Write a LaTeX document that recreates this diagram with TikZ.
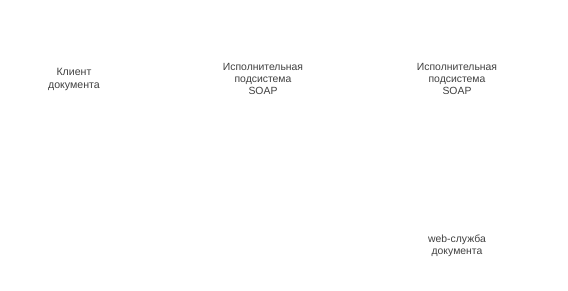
\documentclass[tikz,border=0pt]{standalone}
\usepackage{fontspec}
\setmainfont{Liberation Sans}
\usepackage{xcolor}
\usetikzlibrary{positioning}

\begin{document}
\begin{tikzpicture}[
    x=1pt, y=-1pt,
    label/.style={align=center, inner sep=0pt, text=black!75,
                  font=\fontsize{10.4}{12}\selectfont},
  ]
    \useasboundingbox (0,0) rectangle (568,291);
    \node[label, font=\fontsize{10.6}{13}\selectfont] (client) at (74,79.5) {Клиент\\документа};
    \node[label] (soapA)  at (263,79) {Исполнительная\\подсистема\\SOAP};
    \node[label] (soapB)  at (457,79) {Исполнительная\\подсистема\\SOAP};
    \node[label] (svc)    at (457,245.5) {web-служба\\документа};
  \end{tikzpicture}
\end{document}
